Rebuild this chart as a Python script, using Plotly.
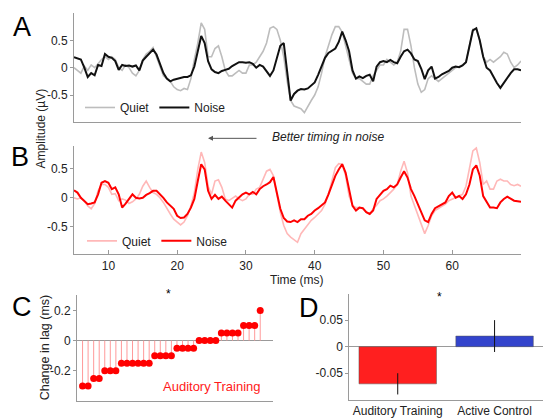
import numpy as np
import plotly.graph_objects as go

# ---------------- data ----------------
time_ms = np.arange(5, 70.01, 0.5)  # 131 samples, 5-70 ms

# Panel A: Quiet (gray) and Noise (black)
a_noise = [
    0.19, 0.17, 0.15, 0.0, -0.17, -0.1, -0.14, 0.05, 0.03, 0.25,
    0.2, 0.18, 0.12, -0.04, 0.05, 0.03, 0.04, 0.02, 0.04, -0.05,
    0.13, 0.2, 0.27, 0.33, 0.24, 0.05, -0.1, -0.2, -0.25, -0.22,
    -0.2, -0.19, -0.17, -0.17, -0.14, 0.02, 0.3, 0.58, 0.45, 0.12,
    -0.03, -0.08, -0.1, -0.06, -0.04, -0.02, 0.03, 0.06, 0.1, 0.1,
    0.09, 0.1, 0.07, 0.0, 0.05, 0.02, -0.07, -0.15, -0.05, 0.18,
    0.4, 0.45, -0.1, -0.6, -0.48, -0.42, -0.39, -0.4, -0.38, -0.33,
    -0.27, -0.13, 0.03, 0.18, 0.27, 0.31, 0.35, 0.47, 0.66, 0.5,
    0.3, -0.05, -0.2, -0.16, -0.19, -0.15, -0.13, -0.25, 0.02, 0.1,
    0.12, 0.1, 0.14, 0.1, 0.08, 0.2, 0.3, 0.33, 0.26, 0.15,
    0.12, -0.02, -0.21, -0.05, 0.02, -0.2, -0.17, -0.12, -0.09, -0.06,
    0.0, 0.02, 0.01, 0.04, 0.1, 0.4, 0.68, 0.72, 0.5, 0.2,
    0.0, -0.05, -0.18, -0.28, -0.37, -0.28, -0.17, -0.1, -0.03, -0.03,
    -0.05,
]
a_quiet = [
    0.0, -0.05, -0.1, 0.03, -0.05, 0.05, 0.0, 0.07, 0.15, 0.2,
    0.15, 0.2, 0.15, 0.0, -0.05, 0.05, 0.0, -0.1, -0.15, -0.05,
    0.15, 0.25, 0.3, 0.37, 0.2, 0.05, -0.15, -0.2, -0.25, -0.35,
    -0.4, -0.42, -0.38, -0.4, -0.2, 0.15, 0.45, 0.82, 0.7, 0.2,
    0.2, 0.35, 0.4, 0.2, -0.05, -0.15, -0.15, -0.1, -0.05, -0.1,
    -0.1, 0.05, 0.05, 0.1, 0.2, 0.3, 0.45, 0.72, 0.75, 0.7,
    0.5, 0.2, -0.25, -0.6, -0.7, -0.72, -0.75, -0.82, -0.7, -0.6,
    -0.5, -0.35, -0.1, 0.2, 0.4, 0.6, 0.75, 0.75, 0.65, 0.4,
    0.1, -0.1, -0.2, -0.2, -0.25, -0.3, -0.3, -0.15, -0.05, 0.05,
    0.05, 0.15, 0.1, 0.05, 0.1, 0.3, 0.7, 0.7, 0.4, 0.0,
    -0.3, -0.45, -0.4, -0.2, -0.15, -0.2, -0.25, -0.2, -0.15, -0.1,
    -0.05, 0.0, 0.02, 0.05, 0.1, 0.4, 0.7, 0.7, 0.5, 0.2,
    0.1, 0.15, 0.1, 0.15, 0.2, 0.28, 0.25, 0.1, 0.0, 0.05,
    0.12,
]

# Panel B: Quiet (pink) and Noise (red)
b_noise = [
    0.13, 0.09, 0.0, -0.05, -0.11, -0.1, -0.08, 0.06, 0.26, 0.29,
    0.26, 0.15, 0.18, 0.06, -0.17, -0.1, -0.02, 0.06, 0.0, -0.01,
    0.0, 0.05, 0.08, 0.12, 0.12, 0.06, 0.0, -0.08, -0.14, -0.19,
    -0.31, -0.35, -0.34, -0.28, -0.17, -0.02, 0.29, 0.58, 0.49, 0.12,
    -0.02, 0.05, -0.02, 0.02, -0.05, -0.11, -0.17, -0.05, 0.0, 0.06,
    0.09, 0.06, 0.1, 0.06, 0.15, 0.2, 0.23, 0.27, 0.36, 0.06,
    -0.19, -0.35, -0.41, -0.42, -0.39, -0.42, -0.37, -0.37, -0.31, -0.28,
    -0.22, -0.18, -0.13, -0.08, 0.06, 0.23, 0.38, 0.49, 0.58, 0.43,
    0.15, -0.14, -0.22, -0.17, -0.18, -0.25, -0.28, -0.22, -0.02, 0.06,
    0.12, 0.15, 0.21, 0.18, 0.23, 0.35, 0.46, 0.35, 0.15, 0.03,
    -0.11, -0.25, -0.39, -0.42, -0.28, -0.18, -0.15, -0.11, -0.08, 0.03,
    0.09, 0.0, 0.03, -0.02, 0.06, 0.23, 0.49, 0.56, 0.38, 0.03,
    -0.08, -0.17, -0.17, -0.18, -0.08, -0.02, 0.02, -0.01, -0.05, -0.06,
    -0.07,
]
b_quiet = [
    0.0, -0.02, 0.0, -0.05, -0.14, -0.19, -0.1, 0.12, 0.23, 0.23,
    0.18, 0.06, 0.07, -0.05, -0.02, -0.04, -0.1, -0.07, -0.02, 0.06,
    0.2, 0.29, 0.18, 0.09, 0.06, 0.0, -0.08, -0.19, -0.28, -0.37,
    -0.42, -0.47, -0.42, -0.31, -0.14, 0.09, 0.49, 0.79, 0.61, 0.2,
    0.06, 0.29, 0.31, 0.18, -0.02, -0.05, -0.01, 0.03, -0.02, -0.05,
    -0.02, 0.06, 0.06, 0.15, 0.18, 0.32, 0.46, 0.49, 0.38, 0.06,
    -0.25, -0.48, -0.62, -0.68, -0.72, -0.77, -0.62, -0.54, -0.45, -0.39,
    -0.34, -0.28, -0.22, -0.11, 0.06, 0.29, 0.52, 0.59, 0.58, 0.38,
    0.03, -0.13, -0.17, -0.17, -0.19, -0.25, -0.28, -0.19, -0.13, -0.05,
    -0.02, 0.03, 0.09, 0.15, 0.23, 0.46, 0.63, 0.43, 0.03, -0.13,
    -0.31, -0.48, -0.62, -0.48, -0.31, -0.22, -0.18, -0.14, -0.11, -0.05,
    -0.02, 0.0, 0.03, 0.06, 0.2, 0.49, 0.81, 0.86, 0.61, 0.23,
    0.29, 0.15, 0.15, 0.29, 0.32, 0.29, 0.29, 0.23, 0.21, 0.23,
    0.2,
]

# Panel C: change in lag (ms) per participant, sorted
lag_change = [
    -0.3, -0.3, -0.25, -0.25, -0.2, -0.2, -0.2,
    -0.15, -0.15, -0.15, -0.15, -0.15, -0.15,
    -0.1, -0.1, -0.1, -0.1,
    -0.05, -0.05, -0.05, -0.05,
    0.0, 0.0, 0.0, 0.0,
    0.05, 0.05, 0.05, 0.05,
    0.1, 0.1, 0.1,
    0.2,
]

# Panel D: group means and error
groups = ["Auditory Training", "Active Control"]
group_means = [-0.07, 0.02]
group_err = [0.02, 0.03]
group_colors = ["#FF1F1F", "#3344CC"]

# ---------------- figure ----------------
W, H = 543, 418
FONT = "Liberation Sans, Arial, Helvetica, sans-serif"
AXC = "#9a9a9a"
TXT = "#222222"


def px_x(p):
    return p / W


def px_y(p):
    return 1 - p / H


fig = go.Figure()

fig.add_trace(go.Scatter(x=time_ms, y=a_quiet, mode="lines", name="Quiet",
                         line=dict(color="#BDBDBD", width=1.6),
                         xaxis="x", yaxis="y", legend="legend"))
fig.add_trace(go.Scatter(x=time_ms, y=a_noise, mode="lines", name="Noise",
                         line=dict(color="#111111", width=2),
                         xaxis="x", yaxis="y", legend="legend"))
fig.add_trace(go.Scatter(x=time_ms, y=b_quiet, mode="lines", name="Quiet",
                         line=dict(color="#FFB8B8", width=1.6),
                         xaxis="x2", yaxis="y2", legend="legend2"))
fig.add_trace(go.Scatter(x=time_ms, y=b_noise, mode="lines", name="Noise",
                         line=dict(color="#FF0000", width=2),
                         xaxis="x2", yaxis="y2", legend="legend2"))

idx = list(range(1, len(lag_change) + 1))
stem_x, stem_y = [], []
for i, v in zip(idx, lag_change):
    stem_x += [i, i, None]
    stem_y += [0, v, None]
fig.add_trace(go.Scatter(x=stem_x, y=stem_y, mode="lines",
                         line=dict(color="#FF9A9A", width=1),
                         xaxis="x3", yaxis="y3", showlegend=False))
fig.add_trace(go.Scatter(x=idx, y=lag_change, mode="markers",
                         marker=dict(color="#FF0000", size=7),
                         xaxis="x3", yaxis="y3", showlegend=False))

fig.add_trace(go.Bar(x=groups, y=group_means, width=0.8,
                     marker=dict(color=group_colors, line=dict(color="#555", width=0.5)),
                     error_y=dict(type="data", array=group_err, color="#111",
                                  thickness=1, width=0),
                     xaxis="x4", yaxis="y4", showlegend=False))

common_axis = dict(showline=True, linecolor=AXC, linewidth=1, showgrid=False,
                   zeroline=False, tickfont=dict(family=FONT, size=12, color=TXT),
                   ticks="outside", ticklen=3, tickcolor=AXC)

fig.update_layout(
    width=W, height=H,
    margin=dict(l=0, r=0, t=0, b=0),
    paper_bgcolor="white", plot_bgcolor="white",
    font=dict(family=FONT, size=12, color=TXT),
    xaxis=dict(common_axis, domain=[px_x(74), px_x(521)], range=[5, 70],
               showticklabels=False, ticks="", anchor="y"),
    yaxis=dict(common_axis, domain=[px_y(123), px_y(13)], range=[-1, 1],
               tickvals=[-0.5, 0, 0.5], ticktext=["-0.5", "0", "0.5"], anchor="x"),
    xaxis2=dict(common_axis, domain=[px_x(74), px_x(521)], range=[5, 70],
                tickvals=[10, 20, 30, 40, 50, 60], ticks="inside", ticklen=4,
                anchor="y2"),
    yaxis2=dict(common_axis, domain=[px_y(255.7), px_y(147)], range=[-0.98, 0.89],
                tickvals=[-0.5, 0, 0.5], ticktext=["-0.5", "0", "0.5"], anchor="x2"),
    xaxis3=dict(common_axis, domain=[px_x(77), px_x(273)], range=[0, 35.3],
                showticklabels=False, ticks="", anchor="y3"),
    yaxis3=dict(common_axis, domain=[px_y(403), px_y(296.7)], range=[-0.4, 0.3],
                tickvals=[-0.2, 0, 0.2], ticktext=["-0.2", "0", "0.2"],
                zeroline=True, zerolinecolor=AXC, zerolinewidth=1, anchor="x3"),
    xaxis4=dict(common_axis, domain=[px_x(349.3), 1.0], range=[-0.5, 1.5],
                type="category", ticks="", tickfont=dict(family=FONT, size=12, color=TXT),
                anchor="y4"),
    yaxis4=dict(common_axis, domain=[px_y(401.7), px_y(295)], range=[-0.1, 0.1],
                tickvals=[-0.05, 0, 0.05], ticktext=["-0.05", "0", "0.05"],
                zeroline=True, zerolinecolor=AXC, zerolinewidth=1, anchor="x4"),
    legend=dict(orientation="h", x=px_x(80), y=px_y(108), xanchor="left",
                yanchor="middle", bgcolor="rgba(0,0,0,0)",
                font=dict(family=FONT, size=12, color=TXT), itemwidth=30),
    legend2=dict(orientation="h", x=px_x(82), y=px_y(242), xanchor="left",
                 yanchor="middle", bgcolor="rgba(0,0,0,0)",
                 font=dict(family=FONT, size=12, color=TXT), itemwidth=30),
)

ann = []
for letter, cx, cy in [("A", 22, 27), ("B", 20, 158), ("C", 22, 308), ("D", 309, 309)]:
    ann.append(dict(text=letter, x=px_x(cx), y=px_y(cy), xref="paper", yref="paper",
                    showarrow=False, xanchor="center", yanchor="middle",
                    font=dict(family=FONT, size=27, color="#000")))
ann.append(dict(text="Amplitude (µV)", x=px_x(41), y=px_y(129), xref="paper", yref="paper",
                showarrow=False, textangle=-90, xanchor="center", yanchor="middle",
                font=dict(family=FONT, size=12, color=TXT)))
ann.append(dict(text="Time (ms)", x=px_x(297), y=px_y(281), xref="paper", yref="paper",
                showarrow=False, xanchor="center", yanchor="middle",
                font=dict(family=FONT, size=12, color=TXT)))
ann.append(dict(text="Change in lag (ms)", x=px_x(45), y=px_y(349), xref="paper", yref="paper",
                showarrow=False, textangle=-90, xanchor="center", yanchor="middle",
                font=dict(family=FONT, size=12.5, color=TXT)))
ann.append(dict(text="", x=px_x(208), y=px_y(139), xref="paper", yref="paper",
                ax=50, ay=0, showarrow=True, arrowhead=2, arrowsize=1,
                arrowwidth=1, arrowcolor="#555"))
ann.append(dict(text="<i>Better timing in noise</i>", x=px_x(270), y=px_y(138),
                xref="paper", yref="paper", showarrow=False, xanchor="left",
                yanchor="middle", font=dict(family=FONT, size=12, color=TXT)))
ann.append(dict(text="*", x=px_x(164), y=px_y(304), xref="paper", yref="paper",
                showarrow=False, font=dict(family=FONT, size=12, color="#000")))
ann.append(dict(text="Auditory Training", x=px_x(263), y=px_y(388), xref="paper",
                yref="paper", showarrow=False, xanchor="right", yanchor="middle",
                font=dict(family=FONT, size=13, color="#FF1A1A")))
ann.append(dict(text="*", x=px_x(444), y=px_y(307), xref="paper", yref="paper",
                showarrow=False, font=dict(family=FONT, size=12, color="#000")))

fig.update_layout(annotations=ann)
fig.write_html("out.html", config={"displayModeBar": False},
               post_script="document.body.style.margin='0';document.body.style.overflow='hidden';")
